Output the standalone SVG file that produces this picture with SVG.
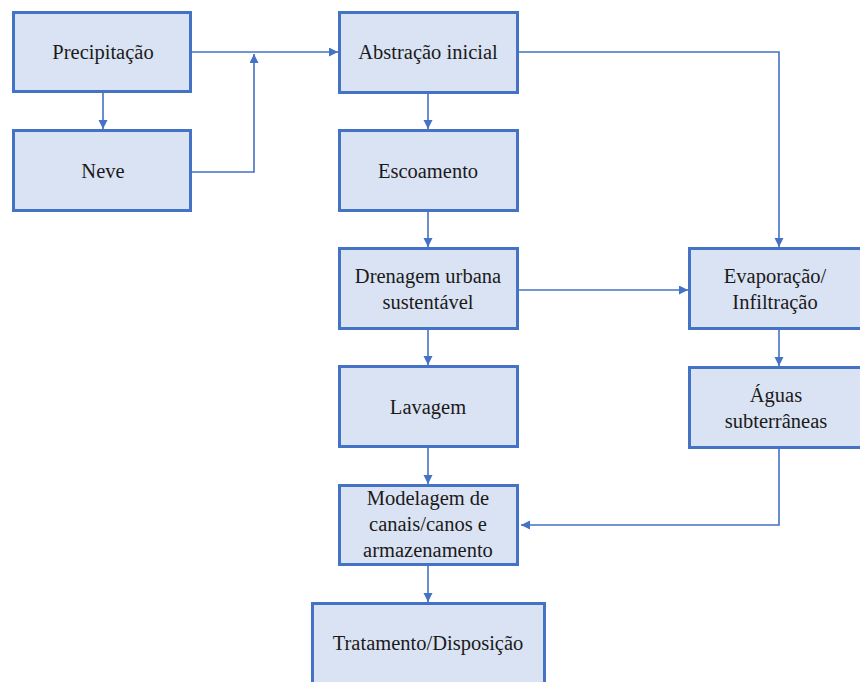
<svg xmlns="http://www.w3.org/2000/svg" width="860" height="682" viewBox="0 0 860 682">
<defs>
<marker id="ah" markerWidth="10" markerHeight="10" refX="9" refY="4.5" orient="auto" markerUnits="userSpaceOnUse">
<path d="M0,0 L9,4.5 L0,9 z" fill="#4472C4"/>
</marker>
<style>
.box{fill:#DAE3F3;stroke:#4472C4;stroke-width:3}
.t{font-family:'Liberation Serif','DejaVu Serif',serif;font-size:20.5px;fill:#1a1a1a;text-anchor:middle}
.c{fill:none;stroke:#4472C4;stroke-width:1.6;marker-end:url(#ah)}
</style>
</defs>
<rect width="860" height="682" fill="#fff"/>
<g id="connectors">
<path class="c" d="M103,93 V129"/>
<path class="c" d="M192,52 H338"/>
<path class="c" d="M192,172 H254 V54"/>
<path class="c" d="M428,94 V129"/>
<path class="c" d="M519,52 H779 V247"/>
<path class="c" d="M428,212 V247"/>
<path class="c" d="M519,290 H688"/>
<path class="c" d="M428,330 V365"/>
<path class="c" d="M428,448 V484"/>
<path class="c" d="M779,330 V366"/>
<path class="c" d="M779,449 V525 H521"/>
<path class="c" d="M428,566 V602"/>
</g>
<g id="precipitacao"><rect class="box" x="13.5" y="12.5" width="177" height="79"/><text class="t" x="103" y="59" font-family="Liberation Serif, serif">Precipitação</text></g>
<g id="neve"><rect class="box" x="13.5" y="130.5" width="177" height="80"/><text class="t" x="103" y="178">Neve</text></g>
<g id="abstracao"><rect class="box" x="339.5" y="12.5" width="178" height="80"/><text class="t" x="428" y="59">Abstração inicial</text></g>
<g id="escoamento"><rect class="box" x="339.5" y="130.5" width="178" height="80"/><text class="t" x="428" y="178">Escoamento</text></g>
<g id="drenagem"><rect class="box" x="339.5" y="248.5" width="178" height="80"/><text class="t" x="428" y="283">Drenagem urbana</text><text class="t" x="428" y="309">sustentável</text></g>
<g id="lavagem"><rect class="box" x="339.5" y="366.5" width="178" height="80"/><text class="t" x="428" y="414">Lavagem</text></g>
<g id="modelagem"><rect class="box" x="339.5" y="485.5" width="178" height="79"/><text class="t" x="428" y="505">Modelagem de</text><text class="t" x="428" y="531">canais/canos e</text><text class="t" x="428" y="557">armazenamento</text></g>
<g id="tratamento"><rect class="box" x="312.5" y="603.5" width="232" height="90"/><text class="t" x="428" y="650">Tratamento/Disposição</text></g>
<g id="evaporacao"><rect class="box" x="689.5" y="248.5" width="180" height="80"/><text class="t" x="775" y="283">Evaporação/</text><text class="t" x="775" y="309">Infiltração</text></g>
<g id="aguas"><rect class="box" x="689.5" y="367.5" width="180" height="80"/><text class="t" x="776" y="402">Águas</text><text class="t" x="776" y="428">subterrâneas</text></g>
</svg>
